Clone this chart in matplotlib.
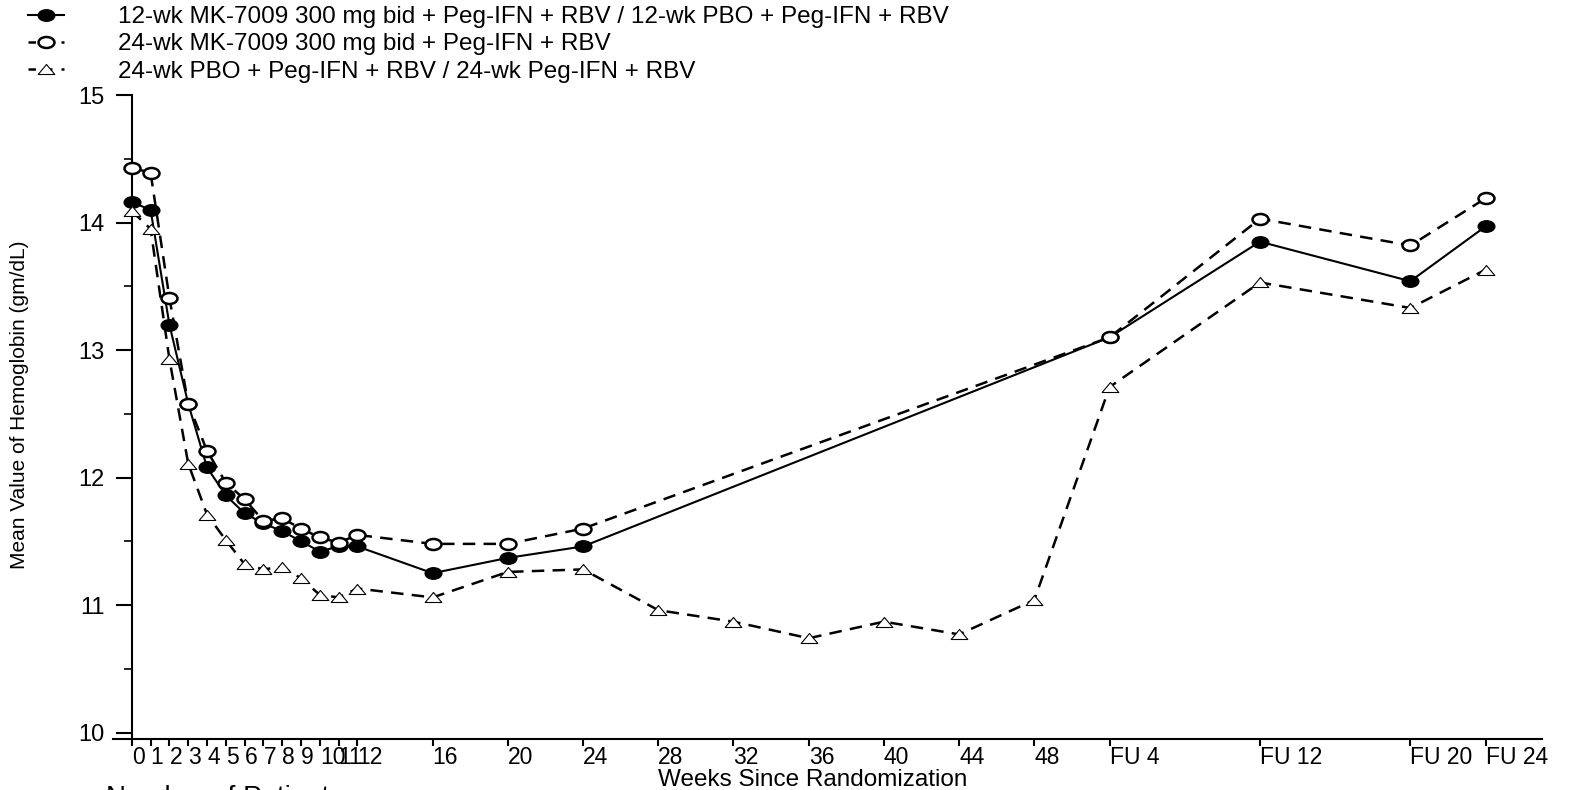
import matplotlib
matplotlib.use("Agg")
import matplotlib.pyplot as plt
from matplotlib.path import Path
from matplotlib.lines import Line2D
from matplotlib.ticker import MultipleLocator

plt.rcParams['font.family'] = ['Liberation Sans', 'DejaVu Sans']

# --- DATA ---
# x position of each visit on the week scale (FU 4 -> 52, FU 12 -> 60, FU 20 -> 68, FU 24 -> 72)
weeks_main = [0, 1, 2, 3, 4, 5, 6, 7, 8, 9, 10, 11, 12, 16, 20, 24, 52, 60, 68, 72]
weeks_pbo = [0, 1, 2, 3, 4, 5, 6, 7, 8, 9, 10, 11, 12, 16, 20, 24, 28, 32, 36, 40, 44, 48,
             52, 60, 68, 72]

hgb_12wk = [14.16, 14.10, 13.20, 12.58, 12.08, 11.86, 11.72, 11.64, 11.58, 11.50, 11.42,
            11.46, 11.46, 11.25, 11.37, 11.46, 13.10, 13.85, 13.54, 13.97]
hgb_24wk = [14.43, 14.39, 13.41, 12.58, 12.21, 11.96, 11.83, 11.66, 11.68, 11.60, 11.53,
            11.49, 11.55, 11.48, 11.48, 11.60, 13.10, 14.03, 13.82, 14.19]
hgb_pbo = [14.09, 13.95, 12.93, 12.11, 11.71, 11.51, 11.32, 11.28, 11.30, 11.21, 11.08,
           11.06, 11.13, 11.06, 11.26, 11.28, 10.96, 10.87, 10.74, 10.87, 10.77, 11.04,
           12.71, 13.53, 13.33, 13.63]

labels = ["12-wk MK-7009 300 mg bid + Peg-IFN + RBV / 12-wk PBO + Peg-IFN + RBV",
          "24-wk MK-7009 300 mg bid + Peg-IFN + RBV",
          "24-wk PBO + Peg-IFN + RBV / 24-wk Peg-IFN + RBV"]

xtick_pos = [0, 1, 2, 3, 4, 5, 6, 7, 8, 9, 10, 11, 12, 16, 20, 24, 28, 32, 36, 40, 44, 48,
             52, 60, 68, 72]
xtick_labels = ["0", "1", "2", "3", "4", "5", "6", "7", "8", "9", "10", "11", "12",
                "16", "20", "24", "28", "32", "36", "40", "44", "48",
                "FU 4", "FU 12", "FU 20", "FU 24"]

# wide markers (the original image is stretched sideways)
circ = Path.unit_circle()
ellipse = Path(circ.vertices * [1.45, 1.0], circ.codes)
triangle = Path([(-1, -0.6), (1, -0.6), (0, 0.6), (-1, -0.6)], closed=True)

fig = plt.figure(figsize=(15.78, 7.90), dpi=100)
ax = fig.add_axes([0.0716, 0.0646, 0.9056, 0.8151])

l1, = ax.plot(weeks_main, hgb_12wk, color='black', lw=1.5, ls='-',
              marker=ellipse, ms=12, mfc='black', mec='black', zorder=3)
l2, = ax.plot(weeks_main, hgb_24wk, color='black', lw=1.8, dashes=(5, 3.3),
              marker=ellipse, ms=11.5, mfc='white', mec='black', mew=1.8, zorder=4)
l3, = ax.plot(weeks_pbo, hgb_pbo, color='black', lw=1.8, dashes=(5, 3.3),
              marker=triangle, ms=12, mfc='white', mec='black', mew=0.8, zorder=5)

ax.set_xlim(-1, 75)
ax.set_ylim(9.95, 15)
ax.spines['left'].set_position(('data', 0))
ax.spines['left'].set_bounds(9.95, 15)
ax.spines['top'].set_visible(False)
ax.spines['right'].set_visible(False)
ax.spines['left'].set_linewidth(1.5)
ax.spines['bottom'].set_linewidth(1.5)

ax.set_yticks([10, 11, 12, 13, 14, 15])
ax.yaxis.set_minor_locator(MultipleLocator(0.5))
ax.tick_params(axis='y', which='major', length=11.5, width=1.5, pad=8, labelsize=17)
ax.tick_params(axis='y', which='minor', length=5.5, width=1.2)

ax.set_xticks(xtick_pos)
ax.set_xticklabels(xtick_labels, ha='left')
ax.tick_params(axis='x', which='major', length=5, width=1.5, pad=0, labelsize=16.5)

fig.text(813 / 1578, 1 - 786 / 790, "Weeks Since Randomization", ha='center', va='baseline',
         fontsize=17.5)
fig.text(20 / 1578, 1 - 405 / 790, "Mean Value of Hemoglobin (gm/dL)", rotation=90,
         ha='center', va='center', fontsize=15)
fig.text(106 / 1578, 0.006, "Number of Patients", ha='left', va='top', fontsize=20)

# legend samples: short dashes either side of the marker
h1 = Line2D([], [], color='black', lw=1.5, ls='-', marker=ellipse, ms=12,
            mfc='black', mec='black')
h2 = Line2D([], [], color='black', lw=1.8, dashes=(3, 3.6), marker=ellipse, ms=11.5,
            mfc='white', mec='black', mew=1.8)
h3 = Line2D([], [], color='black', lw=1.8, dashes=(3, 3.6), marker=triangle, ms=12,
            mfc='white', mec='black', mew=0.8)
ax.legend([h1, h2, h3], labels, loc='upper left', bbox_to_anchor=(28 / 1578, 1 - 6 / 790),
          bbox_transform=fig.transFigure, frameon=False, fontsize=17.5, numpoints=1,
          borderpad=0, borderaxespad=0, handlelength=1.5, handletextpad=2.2,
          labelspacing=0.22)

plt.savefig("out.png", dpi=100)
